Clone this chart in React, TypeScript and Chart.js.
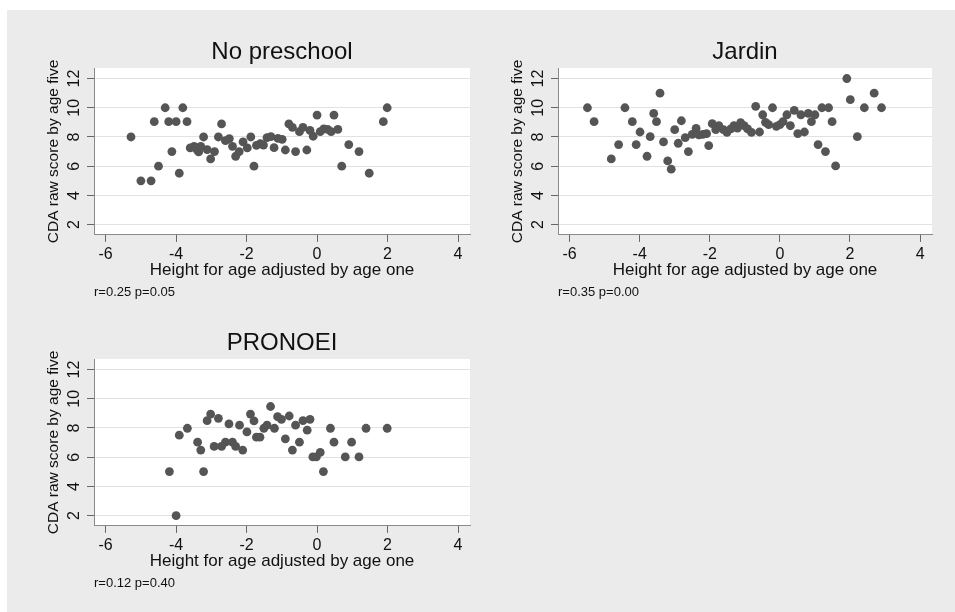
import React, { useEffect, useRef } from "react";
import { Chart, registerables } from "chart.js";

Chart.register(...registerables);
Chart.defaults.font.family = "'Liberation Sans', Arial, Helvetica, sans-serif";

const panelTitles = ["No preschool", "Jardin", "PRONOEI"];
const panelNotes = ["r=0.25 p=0.05", "r=0.35 p=0.00", "r=0.12 p=0.40"];
const xAxisTitle = "Height for age adjusted by age one";
const yAxisTitle = "CDA raw score by age five";
const xTicks = [-6, -4, -2, 0, 2, 4];
const yTicks = [2, 4, 6, 8, 10, 12];
const xRange = [-6.33, 4.34];
const yRange = [1.3, 12.72];

const noPreschoolX = [-5.28, -5.0, -4.71, -4.62, -4.5, -4.31, -4.21, -4.12, -4.0, -3.91, -3.81, -3.69, -3.6, -3.49, -3.41, -3.36, -3.22, -3.3, -3.12, -3.02, -2.91, -2.8, -2.71, -2.6, -2.49, -2.4, -2.31, -2.21, -2.1, -1.98, -1.88, -1.79, -1.72, -1.61, -1.52, -1.42, -1.31, -1.22, -1.11, -0.99, -0.9, -0.8, -0.7, -0.61, -0.5, -0.4, -0.29, -0.2, -0.11, 0.0, 0.09, 0.19, 0.3, 0.4, 0.48, 0.59, 0.7, 0.9, 1.19, 1.48, 1.88, 1.99];
const noPreschoolY = [8.0, 5.0, 5.0, 9.05, 6.0, 10, 9.05, 7.0, 9.05, 5.52, 10, 9.05, 7.25, 7.36, 7.14, 6.98, 8.0, 7.36, 7.14, 6.5, 7.0, 8.0, 8.89, 7.75, 7.89, 7.36, 6.68, 7.0, 7.66, 7.25, 8.0, 6.0, 7.43, 7.55, 7.45, 7.95, 8.02, 7.27, 7.9, 7.84, 7.11, 8.89, 8.66, 7.0, 8.36, 8.66, 7.11, 8.45, 8.05, 9.5, 8.36, 8.55, 8.52, 8.36, 9.5, 8.52, 6.0, 7.48, 7.0, 5.52, 9.05, 10.0];

const jardinX = [-5.49, -5.3, -4.81, -4.6, -4.42, -4.21, -4.1, -3.99, -3.79, -3.7, -3.6, -3.52, -3.42, -3.32, -3.2, -3.1, -3.0, -2.9, -2.81, -2.7, -2.61, -2.5, -2.39, -2.31, -2.2, -2.09, -2.03, -1.93, -1.83, -1.74, -1.61, -1.51, -1.4, -1.31, -1.21, -1.12, -1.02, -0.92, -0.81, -0.69, -0.58, -0.49, -0.41, -0.32, -0.21, -0.1, 0.0, 0.09, 0.2, 0.3, 0.41, 0.51, 0.6, 0.7, 0.81, 0.9, 1.0, 1.09, 1.2, 1.3, 1.39, 1.49, 1.59, 1.91, 2.01, 2.21, 2.41, 2.69, 2.9];
const jardinY = [10, 9.05, 6.5, 7.48, 10, 9.05, 7.48, 8.34, 6.68, 8.02, 9.61, 9.05, 11.0, 7.66, 6.36, 5.8, 8.5, 7.57, 9.11, 7.95, 7.0, 8.18, 8.59, 8.14, 8.18, 8.23, 7.41, 8.91, 8.5, 8.77, 8.5, 8.32, 8.55, 8.77, 8.61, 8.98, 8.77, 8.55, 8.32, 10.1, 8.34, 9.52, 9.0, 8.84, 10.0, 8.73, 8.84, 9.05, 9.52, 8.77, 9.82, 8.23, 9.52, 8.34, 9.61, 9.05, 9.52, 7.48, 10.0, 7.0, 10.0, 9.05, 6.02, 12.0, 10.55, 8.02, 10.0, 11.0, 10.0];

const pronoeiX = [-4.19, -4.0, -3.91, -3.68, -3.39, -3.3, -3.22, -3.12, -3.02, -2.92, -2.8, -2.71, -2.6, -2.5, -2.4, -2.31, -2.2, -2.11, -1.99, -1.89, -1.79, -1.72, -1.62, -1.51, -1.42, -1.32, -1.21, -1.12, -1.01, -0.9, -0.79, -0.7, -0.61, -0.5, -0.4, -0.28, -0.2, -0.12, -0.02, 0.09, 0.18, 0.38, 0.48, 0.8, 0.98, 1.19, 1.39, 1.99];
const pronoeiY = [5.02, 2.0, 7.51, 7.98, 7.03, 6.49, 5.02, 8.5, 8.95, 6.74, 8.66, 6.74, 7.03, 8.28, 7.03, 6.74, 8.19, 6.49, 7.73, 8.95, 8.48, 7.37, 7.37, 7.98, 8.19, 9.47, 7.98, 8.77, 8.59, 7.26, 8.82, 6.49, 8.19, 7.03, 8.5, 7.85, 8.59, 6.02, 6.02, 6.33, 5.02, 7.98, 7.03, 6.02, 7.03, 6.02, 7.98, 7.98];

const plotBackground = {
  id: "plotBackground",
  beforeDraw(chart: any) {
    const { ctx, chartArea } = chart;
    ctx.save();
    ctx.fillStyle = "#ffffff";
    ctx.fillRect(chartArea.left, chartArea.top, chartArea.right - chartArea.left, chartArea.bottom - chartArea.top);
    ctx.restore();
  },
};

type PanelProps = {
  title: string;
  note: string;
  xs: number[];
  ys: number[];
  left: number;
  top: number;
  width: number;
  height: number;
};

function Panel({ title, note, xs, ys, left, top, width, height }: PanelProps) {
  const ref = useRef<HTMLCanvasElement | null>(null);
  useEffect(() => {
    if (!ref.current) return;
    const chart = new Chart(ref.current, {
      type: "scatter",
      data: {
        datasets: [
          {
            data: xs.map((x, i) => ({ x, y: ys[i] })),
            pointRadius: 4.4,
            pointHoverRadius: 4.4,
            pointBackgroundColor: "#555555",
            pointBorderWidth: 0,
            showLine: false,
          },
        ],
      },
      options: {
        responsive: false,
        animation: false,
        events: [],
        layout: { padding: { left: 0, right: 10, top: 0, bottom: 0 } },
        plugins: {
          legend: { display: false },
          tooltip: { enabled: false },
          title: {
            display: true,
            text: title,
            fullSize: false,
            position: "top",
            align: "center",
            color: "#111111",
            font: { size: 24, weight: "normal" },
            padding: { top: 8, bottom: 1.2 },
          },
          subtitle: {
            display: true,
            text: note,
            fullSize: false,
            position: "bottom",
            align: "start",
            color: "#111111",
            font: { size: 13, weight: "normal" },
            padding: { top: 4, bottom: 2 },
          },
        },
        scales: {
          x: {
            type: "linear",
            min: xRange[0],
            max: xRange[1],
            afterBuildTicks: (s: any) => {
              s.ticks = xTicks.map((v) => ({ value: v }));
            },
            afterFit: (s: any) => {
              s.height = 45.5;
            },
            grid: { drawOnChartArea: false, drawTicks: true, tickLength: 7, tickColor: "#666666", tickWidth: 1 },
            border: { display: true, color: "#8a8a8a", width: 1 },
            ticks: { padding: 3, color: "#111111", font: { size: 16 }, maxRotation: 0, autoSkip: false },
            title: { display: true, text: xAxisTitle, color: "#111111", font: { size: 17 }, padding: { top: 0, bottom: 0 } },
          },
          y: {
            type: "linear",
            min: yRange[0],
            max: yRange[1],
            afterBuildTicks: (s: any) => {
              s.ticks = yTicks.map((v) => ({ value: v }));
            },
            afterFit: (s: any) => {
              s.width = 54;
            },
            grid: { color: "#e2e2e2", lineWidth: 1, drawTicks: true, tickLength: 7, tickColor: "#666666", tickWidth: 1 },
            border: { display: true, color: "#8a8a8a", width: 1 },
            ticks: {
              padding: 4,
              color: "#111111",
              font: { size: 16 },
              minRotation: 90,
              maxRotation: 90,
              crossAlign: "center",
              autoSkip: false,
            },
            title: { display: true, text: yAxisTitle, color: "#111111", font: { size: 15.5 }, padding: { top: 4, bottom: 0 } },
          },
        },
      } as any,
      plugins: [plotBackground],
    });
    return () => chart.destroy();
  }, [title, note, xs, ys]);
  return (
    <canvas
      ref={ref}
      width={width}
      height={height}
      style={{ position: "fixed", left, top, width, height, display: "block" }}
    />
  );
}

export default function App() {
  return (
    <div>
      <div style={{ position: "fixed", left: 7, top: 10, width: 948, height: 602, background: "#ebebeb" }} />
      <Panel title={panelTitles[0]} note={panelNotes[0]} xs={noPreschoolX} ys={noPreschoolY} left={40} top={30} width={440} height={272} />
      <Panel title={panelTitles[1]} note={panelNotes[1]} xs={jardinX} ys={jardinY} left={504} top={30} width={438} height={272} />
      <Panel title={panelTitles[2]} note={panelNotes[2]} xs={pronoeiX} ys={pronoeiY} left={40} top={321} width={440} height={272} />
    </div>
  );
}
